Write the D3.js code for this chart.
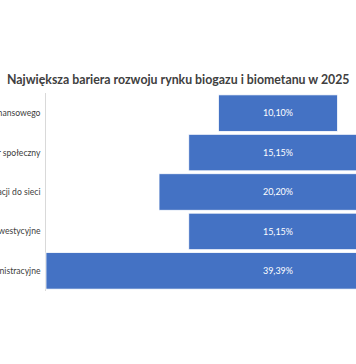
<!DOCTYPE html>
<html><head><meta charset="utf-8">
<script src="https://cdnjs.cloudflare.com/ajax/libs/d3/7.8.5/d3.min.js"></script>
<style>html,body{margin:0;padding:0;background:#fff;overflow:hidden}</style>
</head><body>
<svg id="c" width="356" height="364"></svg>
<script>
const title = "Największa bariera rozwoju rynku biogazu i biometanu w 2025";
const categories = [
  "Brak wsparcia finansowego",
  "Opór społeczny",
  "Brak możliwości przyłączenia instalacji do sieci",
  "Wysokie koszty inwestycyjne",
  "Bariery administracyjne"
];
const values = [10.10, 15.15, 20.20, 15.15, 39.39];
const valueLabels = ["10,10%", "15,15%", "20,20%", "15,15%", "39,39%"];

const svg = d3.select("#c");
const font = "Lato, 'Open Sans', sans-serif";
const maxV = d3.max(values);
const x = d3.scaleLinear().domain([-maxV/2, maxV/2]).range([46, 510]);
const y = d3.scaleBand().domain(categories).range([93.5, 290.5]).paddingInner(0.075).paddingOuter(0.035);

const tg = svg.append("g");
const tt = tg.append("text").attr("x", 0).attr("y", 0)
  .attr("font-family", font).attr("font-weight", "bold").attr("font-size", 13)
  .attr("fill", "#404040")
  .text(title);
const natural = tt.node().getComputedTextLength();
tg.attr("transform", `translate(7,84) scale(${343 / natural},1)`);

svg.append("line").attr("x1", 45.5).attr("x2", 45.5).attr("y1", 93).attr("y2", 291)
  .attr("stroke", "#d9d9d9").attr("stroke-width", 1);

const rows = svg.append("g").selectAll("g").data(categories).join("g");
rows.append("rect")
  .attr("x", (d,i) => x(-values[i]/2))
  .attr("y", d => y(d))
  .attr("width", (d,i) => x(values[i]/2) - x(-values[i]/2))
  .attr("height", y.bandwidth())
  .attr("fill", "#4472C4").attr("stroke", "#ffffff").attr("stroke-width", 0.75);
rows.append("text")
  .attr("x", x(0)).attr("y", d => y(d) + y.bandwidth()/2)
  .attr("dy", "0.35em").attr("text-anchor", "middle")
  .attr("font-family", font).attr("font-size", 9).attr("fill", "#ffffff")
  .text((d,i) => valueLabels[i]);
rows.append("text")
  .attr("x", 40.5).attr("y", d => y(d) + y.bandwidth()/2)
  .attr("dy", "0.35em").attr("text-anchor", "end")
  .attr("font-family", font).attr("font-size", 8.6).attr("fill", "#404040")
  .text(d => d);
</script>
</body></html>
